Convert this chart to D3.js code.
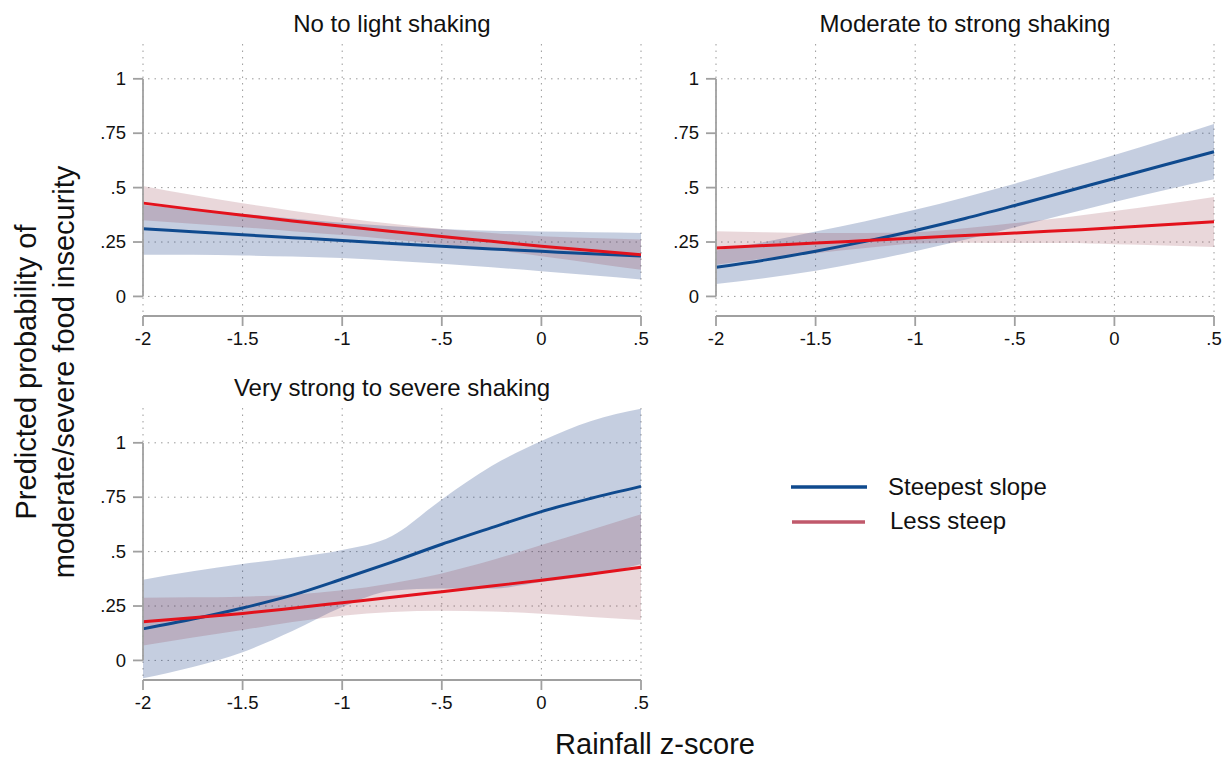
<!DOCTYPE html>
<html>
<head>
<meta charset="utf-8">
<script src="https://cdn.jsdelivr.net/npm/d3@7"></script>
<style>
  body { margin: 0; background: #fff; }
  svg { display: block; font-family: "Liberation Sans", Arial, Helvetica, sans-serif; }
</style>
</head>
<body>
<div id="chart"></div>
<script>
// rainfall z-score grid the margins were evaluated at
var xVals = [-2, -1.75, -1.5, -1.25, -1, -0.75, -0.5, -0.25, 0, 0.25, 0.5];
var xTicks = [-2, -1.5, -1, -0.5, 0, 0.5];
var xTickLabels = ["-2", "-1.5", "-1", "-.5", "0", ".5"];
var yTicks = [0, 0.25, 0.5, 0.75, 1];
var yTickLabels = ["0", ".25", ".5", ".75", "1"];
var panelTitles = ["No to light shaking", "Moderate to strong shaking", "Very strong to severe shaking"];
var seriesNames = ["Steepest slope", "Less steep"];

// No to light shaking
var p1Steep   = [.311, .297, .283, .270, .257, .243, .230, .218, .207, .196, .186];
var p1SteepLo = [.192, .191, .188, .183, .176, .164, .150, .134, .116, .097, .078];
var p1SteepHi = [.420, .400, .380, .358, .338, .323, .310, .302, .298, .295, .292];
var p1Less    = [.429, .400, .373, .347, .322, .298, .275, .253, .231, .211, .192];
var p1LessLo  = [.350, .334, .318, .300, .282, .262, .240, .214, .185, .154, .122];
var p1LessHi  = [.508, .466, .428, .394, .362, .334, .310, .292, .277, .268, .262];

// Moderate to strong shaking
var p2Steep   = [.134, .168, .208, .253, .303, .358, .418, .480, .542, .604, .665];
var p2SteepLo = [.057, .085, .118, .160, .208, .260, .318, .376, .434, .488, .538];
var p2SteepHi = [.211, .251, .298, .346, .398, .456, .518, .584, .650, .720, .792];
var p2Less    = [.223, .234, .245, .257, .269, .280, .291, .303, .315, .329, .343];
var p2LessLo  = [.146, .175, .198, .222, .243, .247, .245, .245, .240, .234, .227];
var p2LessHi  = [.300, .295, .292, .292, .295, .313, .337, .363, .392, .423, .457];

// Very strong to severe shaking
var p3Steep   = [.145, .190, .241, .300, .374, .452, .534, .610, .684, .745, .800];
var p3SteepLo = [-.082, -.030, .038, .135, .245, .320, .330, .330, .360, .390, .443];
var p3SteepHi = [.371, .410, .443, .472, .507, .572, .740, .893, 1.008, 1.100, 1.156];
var p3Less    = [.178, .196, .216, .240, .265, .290, .316, .342, .368, .397, .428];
var p3LessLo  = [.068, .105, .140, .176, .205, .222, .228, .225, .214, .200, .186];
var p3LessHi  = [.288, .290, .293, .302, .322, .355, .400, .460, .530, .600, .672];

var W = 1224, H = 761;
var steepColor = "#0f4a8e", lessColor = "#e3121c";

var panels = [
  {title: panelTitles[0], left: 143, top: 44, steep: [p1Steep, p1SteepLo, p1SteepHi], less: [p1Less, p1LessLo, p1LessHi]},
  {title: panelTitles[1], left: 716, top: 44, steep: [p2Steep, p2SteepLo, p2SteepHi], less: [p2Less, p2LessLo, p2LessHi]},
  {title: panelTitles[2], left: 143, top: 408, steep: [p3Steep, p3SteepLo, p3SteepHi], less: [p3Less, p3LessLo, p3LessHi]}
];
var pw = 498, ph = 272;

var svg = d3.select("#chart").append("svg")
  .attr("width", W)
  .attr("height", H);

var x = d3.scaleLinear().domain([-2, 0.5]).range([0, pw]);
var y = d3.scaleLinear().domain([-0.09, 1.16]).range([ph, 0]);

function toPoints(mid, lo, hi) {
  return xVals.map(function(v, i) { return {x: v, m: mid[i], lo: lo[i], hi: hi[i]}; });
}

var band = d3.area()
  .x(function(d) { return x(d.x); })
  .y0(function(d) { return y(d.lo); })
  .y1(function(d) { return y(d.hi); })
  .curve(d3.curveMonotoneX);

var line = d3.line()
  .x(function(d) { return x(d.x); })
  .y(function(d) { return y(d.m); })
  .curve(d3.curveMonotoneX);

panels.forEach(function(p) {
  var g = svg.append("g").attr("transform", "translate(" + p.left + "," + p.top + ")");

  // dotted grid
  g.selectAll(".vgrid").data(xTicks).enter().append("line")
    .attr("x1", function(d) { return x(d); })
    .attr("x2", function(d) { return x(d); })
    .attr("y1", 0).attr("y2", ph - 3)
    .attr("stroke", "#9a9a9a").attr("stroke-width", 1)
    .attr("stroke-dasharray", "1.5,5");
  g.selectAll(".hgrid").data(yTicks).enter().append("line")
    .attr("x1", 5).attr("x2", pw)
    .attr("y1", function(d) { return y(d); })
    .attr("y2", function(d) { return y(d); })
    .attr("stroke", "#9a9a9a").attr("stroke-width", 1)
    .attr("stroke-dasharray", "1.5,5");

  var steepPts = toPoints(p.steep[0], p.steep[1], p.steep[2]);
  var lessPts = toPoints(p.less[0], p.less[1], p.less[2]);

  g.append("path").datum(steepPts)
    .attr("d", band)
    .attr("fill", "rgb(24,60,132)").attr("fill-opacity", 0.25);
  g.append("path").datum(lessPts)
    .attr("d", band)
    .attr("fill", "rgb(140,40,60)").attr("fill-opacity", 0.19);

  g.append("path").datum(steepPts)
    .attr("d", line)
    .attr("fill", "none").attr("stroke", steepColor).attr("stroke-width", 3);
  g.append("path").datum(lessPts)
    .attr("d", line)
    .attr("fill", "none").attr("stroke", lessColor).attr("stroke-width", 3);

  // y axis: solid only over the tick range
  var yAxis = g.append("g");
  yAxis.append("line")
    .attr("x1", 0).attr("x2", 0)
    .attr("y1", y(1)).attr("y2", y(0))
    .attr("stroke", "#a0a0a0").attr("stroke-width", 1.8);
  yAxis.selectAll(".yt").data(yTicks).enter().append("line")
    .attr("x1", -10).attr("x2", 0)
    .attr("y1", function(d) { return y(d); })
    .attr("y2", function(d) { return y(d); })
    .attr("stroke", "#a0a0a0").attr("stroke-width", 1.8);
  yAxis.selectAll(".yl").data(yTicks).enter().append("text")
    .attr("x", -17)
    .attr("y", function(d) { return y(d); })
    .attr("dy", "0.33em")
    .attr("text-anchor", "end")
    .attr("font-size", "18.5px")
    .attr("fill", "#111")
    .text(function(d, i) { return yTickLabels[i]; });

  // x axis
  var xAxis = g.append("g").attr("transform", "translate(0," + ph + ")");
  xAxis.append("line")
    .attr("x1", 0).attr("x2", pw)
    .attr("stroke", "#a0a0a0").attr("stroke-width", 1.8);
  xAxis.selectAll(".xt").data(xTicks).enter().append("line")
    .attr("x1", function(d) { return x(d); })
    .attr("x2", function(d) { return x(d); })
    .attr("y1", 0).attr("y2", 10)
    .attr("stroke", "#a0a0a0").attr("stroke-width", 1.8);
  xAxis.selectAll(".xl").data(xTicks).enter().append("text")
    .attr("x", function(d) { return x(d); })
    .attr("y", 29)
    .attr("text-anchor", "middle")
    .attr("font-size", "18.5px")
    .attr("fill", "#111")
    .text(function(d, i) { return xTickLabels[i]; });

  g.append("text")
    .attr("x", pw / 2)
    .attr("y", -12)
    .attr("text-anchor", "middle")
    .attr("font-size", "24px")
    .attr("fill", "#111")
    .text(p.title);
});

// axis titles
svg.append("text")
  .attr("x", 655).attr("y", 754)
  .attr("text-anchor", "middle")
  .attr("font-size", "29px")
  .attr("fill", "#111")
  .text("Rainfall z-score");

var yTitle = svg.append("text")
  .attr("transform", "translate(36,372) rotate(-90)")
  .attr("text-anchor", "middle")
  .attr("font-size", "29px")
  .attr("fill", "#111");
yTitle.append("tspan").attr("x", 0).attr("y", 0).text("Predicted probability of");
yTitle.append("tspan").attr("x", 0).attr("y", 38).text("moderate/severe food insecurity");

// legend
var legendColors = [steepColor, "#c0596b"];
var leg = svg.append("g");
leg.selectAll("line").data(seriesNames).enter().append("line")
  .attr("x1", function(d, i) { return i === 0 ? 791 : 792; })
  .attr("x2", function(d, i) { return i === 0 ? 867 : 865; })
  .attr("y1", function(d, i) { return 487 + i * 35; })
  .attr("y2", function(d, i) { return 487 + i * 35; })
  .attr("stroke", function(d, i) { return legendColors[i]; })
  .attr("stroke-width", 3.5);
leg.selectAll("text").data(seriesNames).enter().append("text")
  .attr("x", function(d, i) { return i === 0 ? 888 : 890; })
  .attr("y", function(d, i) { return 495 + i * 34; })
  .attr("font-size", "24px")
  .attr("fill", "#111")
  .text(function(d) { return d; });
</script>
</body>
</html>
